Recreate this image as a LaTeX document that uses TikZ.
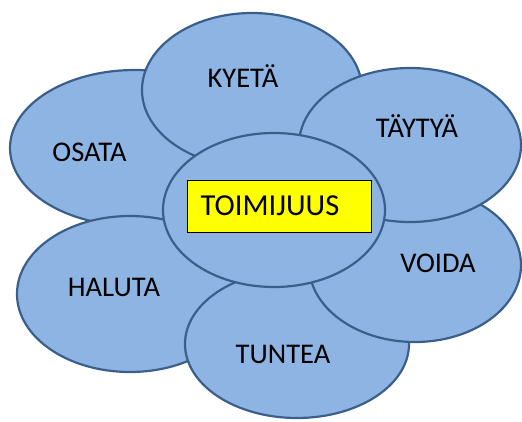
\documentclass[tikz,border=0pt]{standalone}
\usepackage{fontspec}
\setmainfont{Carlito}
\usetikzlibrary{shapes.geometric}
\definecolor{petalfill}{HTML}{8EB4E3}
\definecolor{petalline}{HTML}{3A5F8B}
\definecolor{keyyellow}{HTML}{FFFF00}
\tikzset{
  petal/.style={ellipse, draw=petalline, fill=petalfill, line width=2.2pt,
    inner sep=0pt},
  word/.style={anchor=base, font=\fontsize{28.5}{28.5}\selectfont, text=black,
    inner sep=0pt},
  keybox/.style={draw=black, fill=keyyellow, line width=0.8pt, inner sep=0pt}
}
\begin{document}
\begin{tikzpicture}[x=1pt,y=-1pt]
  \useasboundingbox (0,0) rectangle (522,421);
  % outer petals, back to front
  \node[petal, minimum width=250pt, minimum height=156pt] (osata)  at (135,148) {};
  \node[petal, minimum width=226pt, minimum height=156pt] (haluta) at (130,294) {};
  \node[petal, minimum width=224pt, minimum height=148pt] (tuntea) at (297,344) {};
  \node[petal, minimum width=212pt, minimum height=154pt] (voida)  at (415,265) {};
  \node[petal, minimum width=220pt, minimum height=154pt] (kyeta)  at (252,90) {};
  \node[petal, minimum width=222pt, minimum height=154pt] (taytya) at (410,145) {};
  % centre
  \node[petal, minimum width=222pt, minimum height=154pt] (centre) at (274,210) {};
  \node[keybox, minimum width=184pt, minimum height=52pt] (box) at (279,206) {};
  % labels
  \node[word] (osata-t)  at (89.5,161) {OSATA};
  \node[word] (kyeta-t)  at (243,87) {KYETÄ};
  \node[word] (taytya-t) at (417,137) {TÄYTYÄ};
  \node[word] (voida-t)  at (438,272) {VOIDA};
  \node[word] (tuntea-t) at (283,363) {TUNTEA};
  \node[word] (haluta-t) at (114,296) {HALUTA};
  \node[word, font=\fontsize{30.5}{30.5}\selectfont] (centre-t) at (270,215) {TOIMIJUUS};
\end{tikzpicture}
\end{document}
